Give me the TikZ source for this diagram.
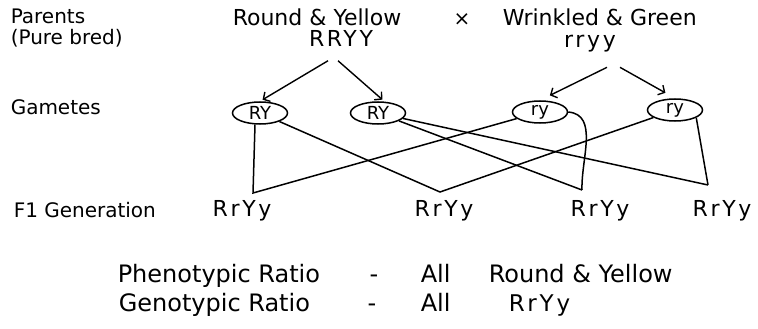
\documentclass[tikz,border=0pt]{standalone}
\usepackage{fontspec}
\setmainfont{DejaVu Sans}
\newfontfamily\genofont[LetterSpace=12]{DejaVu Sans}
\usetikzlibrary{shapes.geometric, arrows.meta, positioning, calc}

\begin{document}
\begin{tikzpicture}[
    x=1pt, y=-1pt,
    line width=1.5pt,
    lbl/.style={font=\fontsize{20}{24}\selectfont, inner sep=0pt, anchor=base west},
    pheno/.style={font=\fontsize{22}{26}\selectfont, inner sep=0pt, anchor=base west},
    geno/.style={font=\genofont\fontsize{22}{26}\selectfont, inner sep=0pt, anchor=base},
    gam/.style={
      ellipse, draw, line width=1.5pt,
      minimum width=55pt, minimum height=22pt,
      inner sep=0pt, font=\fontsize{18}{20}\selectfont
    },
    ratio/.style={font=\fontsize{24}{28}\selectfont, inner sep=0pt, anchor=base west},
    arr/.style={-{Straight Barb[length=5pt,width=11pt]}, line width=1.4pt}
  ]
  \useasboundingbox (0,0) rectangle (758,329);
  % row labels
  \node[lbl] (parents) at (10,24) {Parents};
  \node[lbl] (pure)    at (10,45) {(Pure bred)};
  \node[lbl] (gametes) at (10,114) {Gametes};
  \node[lbl] (f1gen)   at (13,217) {F1 Generation};
  % parents
  \node[pheno] (ry)    at (232,26) {Round \& Yellow};
  \node[font=\fontsize{20}{24}\selectfont, inner sep=0pt] (cross) at (462,20) {×};
  \node[pheno] (wg)    at (502,26) {Wrinkled \& Green};
  \node[geno]  (pRR)   at (341,47) {RRYY};
  \node[geno]  (prr)   at (590,48) {rryy};
  % gametes
  \node[gam] (gA) at (260,113) {RY};
  \node[gam] (gB) at (378,113) {RY};
  \node[gam] (gC) at (540,112) {ry};
  \node[gam] (gD) at (675,110) {ry};
  \draw[arr, shorten >=3pt] ([xshift=-13pt,yshift=-13pt]pRR.south) -- (gA.north);
  \draw[arr, shorten >=3pt] ([xshift=-3pt,yshift=-13pt]pRR.south) -- (gB.60);
  \draw[arr, shorten >=11pt] ([xshift=17pt,yshift=-14pt]prr.south) -- (gC.north);
  \draw[arr, shorten >=11pt] ([xshift=30pt,yshift=-14pt]prr.south) -- (gD.north);
  % F1 generation
  \node[geno] (f1) at (242,216) {RrYy};
  \node[geno] (f2) at (444,216) {RrYy};
  \node[geno] (f3) at (600,216) {RrYy};
  \node[geno] (f4) at (722,216) {RrYy};
  \coordinate (t1) at (253,193);
  \coordinate (t2) at (440,192);
  \coordinate (t3) at (582,190);
  \coordinate (t4) at (708,185);
  \draw ([xshift=-5pt]gA.south) -- (t1) -- (gC);
  \draw (gA) -- (t2) -- (gD);
  \draw (gB) -- (t3);
  \draw (gC.east) to[out=-5, in=92] (t3);
  \draw (gB) -- (t4);
  \draw (gD.-20) -- (t4);
  % ratios
  \node[ratio] (phr)  at (117,282) {Phenotypic Ratio};
  \node[ratio, anchor=base] (d1) at (374,282) {-};
  \node[ratio] (all1) at (420,282) {All};
  \node[ratio] (res1) at (488,282) {Round \& Yellow};
  \node[ratio] (gnr)  at (118,311) {Genotypic Ratio};
  \node[ratio, anchor=base] (d2) at (372,311) {-};
  \node[ratio] (all2) at (420,311) {All};
  \node[geno, font=\genofont\fontsize{23}{27}\selectfont, anchor=base west] (res2) at (508,311) {RrYy};
\end{tikzpicture}
\end{document}
